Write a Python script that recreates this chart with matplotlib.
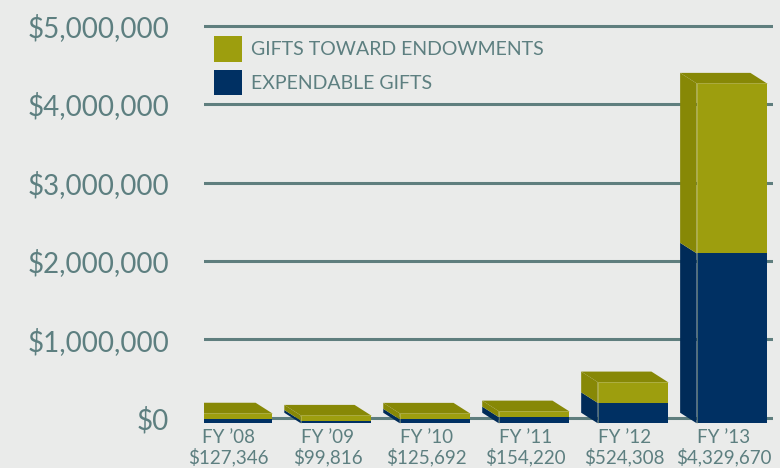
import matplotlib
matplotlib.use("Agg")
import matplotlib.pyplot as plt
from matplotlib.patches import Polygon, Patch
import numpy as np

# data
years = ["FY \u201908", "FY \u201909", "FY \u201910", "FY \u201911", "FY \u201912", "FY \u201913"]
total_labels = ["$127,346", "$99,816", "$125,692", "$154,220", "$524,308", "$4,329,670"]
expendable = [60000, 35000, 50000, 78000, 260000, 2165000]
endowments = [67346, 64816, 75692, 76220, 264308, 2164670]
y_ticks = [0, 1000000, 2000000, 3000000, 4000000, 5000000]

BG = "#eaebea"
TEXT = "#5d7f80"
GRID = "#5f7e7e"
OLIVE, OLIVE_DK = "#9d9e0e", "#878806"
NAVY, NAVY_DK = "#003063", "#002b58"
FONT = "Lato"

W, H = 780, 468
fig = plt.figure(figsize=(W / 100, H / 100), dpi=100, facecolor=BG)
ax = fig.add_axes([204 / W, 42 / H, 569 / W, 426 / H])
ax.set_facecolor("none")
ax.set_xlim(-0.25, 5.5)
ax.set_ylim(-0.102e6, 5.325e6)

# fake 3d depth (data units) and front face width
dx, dy = 0.167, 0.134e6
w = 0.71

x = np.arange(len(years))
exp = np.array(expendable, dtype=float)
end = np.array(endowments, dtype=float)
base = -dy / 2

xf = x + dx / 2  # front face centres
ax.bar(xf, exp, w, bottom=base, color=NAVY, zorder=3, linewidth=0)
ax.bar(xf, end, w, bottom=base + exp, color=OLIVE, zorder=3, linewidth=0)

for i in range(len(x)):
    xl = xf[i] - w / 2
    xr = xf[i] + w / 2
    segs = [(base, base + exp[i], NAVY_DK), (base + exp[i], base + exp[i] + end[i], OLIVE_DK)]
    for y0, y1, c in segs:
        side = [(xl, y0), (xl, y1), (xl - dx, y1 + dy), (xl - dx, y0 + dy)]
        ax.add_patch(Polygon(side, closed=True, fc=c, ec="none", zorder=3))
    top = base + exp[i] + end[i]
    roof = [(xl, top), (xr, top), (xr - dx, top + dy), (xl - dx, top + dy)]
    ax.add_patch(Polygon(roof, closed=True, fc=OLIVE_DK, ec="none", zorder=3))
    # thin light edge where the faces meet
    ax.plot([xl, xl, xr], [base, top, top], color="#c9c98a", lw=0.6, alpha=0.5, zorder=4)

ax.set_yticks(y_ticks)
ax.set_yticklabels([f"${v:,.0f}" for v in y_ticks], fontsize=20, color=TEXT, family=FONT)
ax.yaxis.grid(True, color=GRID, lw=2.2, zorder=0)
ax.set_axisbelow(True)

ax.set_xticks(x)
ax.set_xticklabels([f"{a}\n{b}" for a, b in zip(years, total_labels)],
                   fontsize=13.5, color=TEXT, family=FONT, linespacing=1.12)
ax.tick_params(axis="y", length=0, pad=25)
ax.tick_params(axis="x", length=0, pad=2)
for s in ax.spines.values():
    s.set_visible(False)

handles = [Patch(fc=OLIVE, ec="none"), Patch(fc=NAVY, ec="none")]
fig.legend(handles, ["GIFTS TOWARD ENDOWMENTS", "EXPENDABLE GIFTS"],
           loc="upper left", bbox_to_anchor=(214 / W, 1 - 36 / H),
           frameon=False, borderpad=0, borderaxespad=0,
           handlelength=1.45, handleheight=1.65, handletextpad=0.45,
           labelspacing=0.42, prop={"family": FONT, "size": 14},
           labelcolor=TEXT)

fig.savefig("out.png", dpi=100, facecolor=BG)
